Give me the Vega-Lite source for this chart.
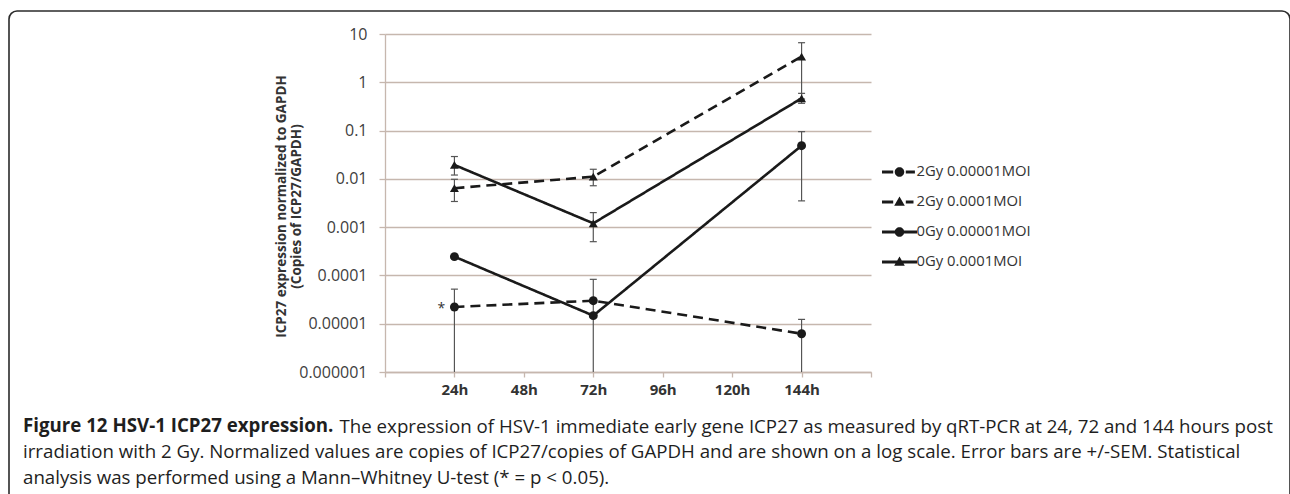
{
  "$schema": "https://vega.github.io/schema/vega-lite/v6.json",
  "width": 1281,
  "height": 493,
  "autosize": {"type": "none"},
  "padding": {"left": 9, "top": 11, "right": 0, "bottom": -10},
  "background": "white",
  "view": {"stroke": "#2b2b2b", "strokeWidth": 1.6, "cornerRadius": 8, "fill": null},
  "title": {
    "text": "Figure 12 HSV-1 ICP27 expression.",
    "subtitle": [
      "irradiation with 2 Gy. Normalized values are copies of ICP27/copies of GAPDH and are shown on a log scale. Error bars are +/-SEM. Statistical",
      "analysis was performed using a Mann\u2013Whitney U-test (* = p < 0.05)."
    ],
    "orient": "bottom",
    "anchor": "start",
    "frame": "group",
    "offset": -86.6,
    "dx": 14,
    "font": "Open Sans",
    "fontSize": 18.7,
    "fontWeight": "bold",
    "color": "#1e1e1e",
    "subtitleFont": "Open Sans",
    "subtitleFontSize": 18.7,
    "subtitleColor": "#1e1e1e",
    "subtitleLineHeight": 26,
    "subtitlePadding": 7.3,
    "limit": 1280
  },
  "data": {
    "values": [
      {"series": "2Gy 0.00001MOI", "hours": 24, "value": 0.0000222, "lo": 0.000001, "hi": 0.000052, "star": "*"},
      {"series": "2Gy 0.00001MOI", "hours": 72, "value": 0.00003, "lo": 0.000001, "hi": 0.000083, "star": null},
      {"series": "2Gy 0.00001MOI", "hours": 144, "value": 0.0000062, "lo": 0.000001, "hi": 0.0000123, "star": null},
      {"series": "2Gy 0.0001MOI", "hours": 24, "value": 0.0064, "lo": 0.0034, "hi": 0.0098, "star": null},
      {"series": "2Gy 0.0001MOI", "hours": 72, "value": 0.0111, "lo": 0.0072, "hi": 0.0158, "star": null},
      {"series": "2Gy 0.0001MOI", "hours": 144, "value": 3.4, "lo": 0.45, "hi": 6.6, "star": null},
      {"series": "0Gy 0.00001MOI", "hours": 24, "value": 0.000245, "lo": null, "hi": null, "star": null},
      {"series": "0Gy 0.00001MOI", "hours": 72, "value": 0.0000147, "lo": null, "hi": null, "star": null},
      {"series": "0Gy 0.00001MOI", "hours": 144, "value": 0.0486, "lo": 0.0035, "hi": 0.095, "star": null},
      {"series": "0Gy 0.0001MOI", "hours": 24, "value": 0.0194, "lo": 0.012, "hi": 0.029, "star": null},
      {"series": "0Gy 0.0001MOI", "hours": 72, "value": 0.0012, "lo": 0.0005, "hi": 0.002, "star": null},
      {"series": "0Gy 0.0001MOI", "hours": 144, "value": 0.465, "lo": 0.367, "hi": 0.59, "star": null}
    ]
  },
  "encoding": {
    "x": {
      "field": "hours",
      "type": "quantitative",
      "scale": {"domain": [0, 168], "range": [376, 862], "nice": false, "zero": false},
      "axis": {
        "values": [0, 24, 48, 72, 96, 120, 144, 168],
        "labelExpr": "datum.value > 0 && datum.value < 168 ? datum.value + 'h' : ''",
        "grid": false,
        "domainColor": "#c6b7ae",
        "domainWidth": 1.3,
        "tickColor": "#c6b7ae",
        "tickWidth": 1.3,
        "tickSize": 5,
        "labelFont": "Open Sans",
        "labelFontSize": 15,
        "labelFontWeight": "bold",
        "labelColor": "#333333",
        "labelPadding": 5,
        "labelOverlap": false,
        "labelFlush": false,
        "offset": -132,
        "title": "The expression of HSV-1 immediate early gene ICP27 as measured by qRT-PCR at 24, 72 and 144 hours post",
        "titleFont": "Open Sans",
        "titleFontSize": 18.7,
        "titleFontWeight": "normal",
        "titleColor": "#1e1e1e",
        "titleAlign": "left",
        "titleBaseline": "top",
        "titleX": 330,
        "titleY": 45.4,
        "titleLimit": 1200
      }
    },
    "y": {
      "field": "value",
      "type": "quantitative",
      "scale": {"type": "log", "domain": [0.000001, 10], "range": [361, 23], "nice": false},
      "axis": {
        "values": [0.000001, 0.00001, 0.0001, 0.001, 0.01, 0.1, 1, 10],
        "format": ".6~f",
        "grid": true,
        "gridColor": "#c6b7ae",
        "gridWidth": 1.3,
        "domainColor": "#c6b7ae",
        "domainWidth": 1.3,
        "tickColor": "#c6b7ae",
        "tickWidth": 1.3,
        "tickSize": 6,
        "labelPadding": 12,
        "labelFont": "Open Sans",
        "labelFontSize": 16,
        "labelColor": "#404040",
        "labelOverlap": false,
        "offset": -376,
        "title": ["ICP27 expression normalized to GAPDH", "(Copies of ICP27/GAPDH)"],
        "titleFont": "Open Sans",
        "titleFontSize": 13.5,
        "titleFontWeight": "bold",
        "titleColor": "#333333",
        "titleX": -110.5,
        "titleY": 195,
        "titleAlign": "center",
        "titleBaseline": "top",
        "titleAngle": -90,
        "titleLineHeight": 15
      }
    }
  },
  "layer": [
    {
      "transform": [{"filter": "datum.lo != null"}],
      "mark": {"type": "rule", "color": "#555555", "strokeWidth": 1.2, "opacity": 1},
      "encoding": {
        "y": {"field": "lo", "type": "quantitative", "scale": {"type": "log", "domain": [0.000001, 10], "range": [361, 23], "nice": false}},
        "y2": {"field": "hi"}
      }
    },
    {
      "transform": [{"filter": "datum.hi != null"}],
      "mark": {"type": "tick", "orient": "horizontal", "size": 7, "thickness": 1.2, "color": "#555555", "opacity": 1},
      "encoding": {
        "y": {"field": "hi", "type": "quantitative", "scale": {"type": "log", "domain": [0.000001, 10], "range": [361, 23], "nice": false}}
      }
    },
    {
      "transform": [{"filter": "datum.lo != null && datum.lo > 0.0000011"}],
      "mark": {"type": "tick", "orient": "horizontal", "size": 7, "thickness": 1.2, "color": "#555555", "opacity": 1},
      "encoding": {
        "y": {"field": "lo", "type": "quantitative", "scale": {"type": "log", "domain": [0.000001, 10], "range": [361, 23], "nice": false}}
      }
    },
    {
      "mark": {"type": "line", "color": "#1a1a1a", "strokeWidth": 2.6},
      "encoding": {
        "strokeDash": {
          "field": "series",
          "type": "nominal",
          "scale": {"domain": ["2Gy 0.00001MOI", "2Gy 0.0001MOI", "0Gy 0.00001MOI", "0Gy 0.0001MOI"], "range": [[10, 6], [10, 6], [1, 0], [1, 0]]},
          "legend": null
        }
      }
    },
    {
      "mark": {"type": "point", "filled": true, "color": "#1a1a1a", "size": 80, "opacity": 1},
      "encoding": {
        "shape": {
          "field": "series",
          "type": "nominal",
          "scale": {"domain": ["2Gy 0.00001MOI", "2Gy 0.0001MOI", "0Gy 0.00001MOI", "0Gy 0.0001MOI"], "range": ["circle", "triangle-up", "circle", "triangle-up"]},
          "legend": null
        }
      }
    },
    {
      "transform": [{"filter": "false"}],
      "mark": {"type": "point", "filled": true, "color": "#1a1a1a", "opacity": 1},
      "encoding": {
        "shape": {
          "field": "series",
          "type": "nominal",
          "scale": {
            "domain": ["2Gy 0.00001MOI", "2Gy 0.0001MOI", "0Gy 0.00001MOI", "0Gy 0.0001MOI"],
            "range": [
              "M-1.25,-0.1L-0.45,-0.1L-0.45,0.1L-1.25,0.1ZM0.45,-0.1L1.1,-0.1L1.1,0.1L0.45,0.1ZM0.34,0A0.34,0.34,0,1,1,-0.34,0A0.34,0.34,0,1,1,0.34,0Z",
              "M-1.25,-0.1L-0.45,-0.1L-0.45,0.1L-1.25,0.1ZM0.45,-0.1L1.0,-0.1L1.0,0.1L0.45,0.1ZM0,-0.4L0.38,0.27L-0.38,0.27Z",
              "M-1.25,-0.1L1.25,-0.1L1.25,0.1L-1.25,0.1ZM0.34,0A0.34,0.34,0,1,1,-0.34,0A0.34,0.34,0,1,1,0.34,0Z",
              "M-1.25,-0.1L1.25,-0.1L1.25,0.1L-1.25,0.1ZM0,-0.4L0.38,0.27L-0.38,0.27Z"
            ]
          },
          "legend": {
            "orient": "none",
            "legendX": 876.5,
            "legendY": 147,
            "title": null,
            "padding": 0,
            "symbolSize": 784,
            "symbolStrokeWidth": 0,
            "symbolOpacity": 1,
            "labelOffset": 3,
            "rowPadding": 9,
            "labelFont": "Open Sans",
            "labelFontSize": 14.8,
            "labelColor": "#333333",
            "labelLimit": 300
          }
        }
      }
    },
    {
      "transform": [{"filter": "datum.star != null"}],
      "mark": {"type": "text", "dx": -13, "dy": 2, "fontSize": 14, "font": "Open Sans", "color": "#333333", "baseline": "middle"},
      "encoding": {
        "text": {"field": "star"}
      }
    }
  ],
  "resolve": {"scale": {"strokeDash": "independent", "shape": "independent"}}
}
